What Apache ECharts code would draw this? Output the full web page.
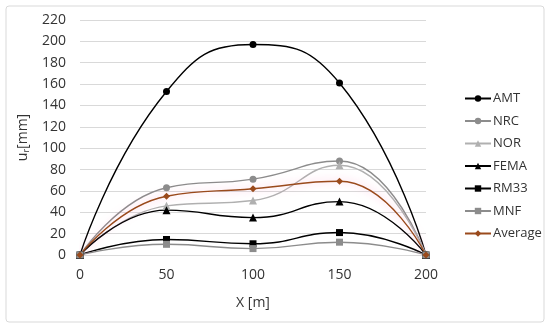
<!DOCTYPE html>
<html><head><meta charset="utf-8">
<script src="https://cdn.jsdelivr.net/npm/echarts@6/dist/echarts.min.js"></script>
<style>html,body{margin:0;padding:0;background:#fff}#c{width:550px;height:331px}</style>
</head><body><div id="c"></div>
<script>
const xs = [0, 50, 100, 150, 200];
const AMT = [0, 153, 197, 161, 0];
const NRC = [0, 63, 71, 88, 0];
const NOR = [0, 46, 51, 84, 0];
const FEMA = [0, 42, 35, 50, 0];
const RM33 = [0, 14.5, 10.5, 21, 0];
const MNF = [0, 10, 6, 12, 0];
const Average = [0, 55, 62, 69, 0];
const yTicks = [0, 20, 40, 60, 80, 100, 120, 140, 160, 180, 200, 220];

const pair = a => xs.map((x, i) => [x, a[i]]);
const font = 'Open Sans';
function s(name, data, color, symbol, extra) {
  return Object.assign({
    name, type: 'line', data: pair(data), smooth: 0.5,
    symbol, symbolSize: symbol === 'triangle' ? 8 : 7,
    lineStyle: { color, width: 1.4 },
    itemStyle: { color },
    z: 3
  }, extra || {});
}
const chart = echarts.init(document.getElementById('c'), null, { renderer: 'canvas' });
chart.setOption({
  animation: false,
  graphic: [{ type: 'rect', shape: { x: 6, y: 6, width: 538, height: 316, r: 3 },
    style: { fill: 'none', stroke: '#d9d9d9', lineWidth: 1 }, z: -1 }],
  grid: { left: 80, right: 124, top: 20, bottom: 76 },
  xAxis: {
    type: 'value', min: 0, max: 200, interval: 50,
    axisLine: { show: false }, axisTick: { show: false }, splitLine: { show: false },
    axisLabel: { fontFamily: font, fontSize: 14, color: '#333333', margin: 13 },
    name: 'X [m]', nameLocation: 'middle', nameGap: 41,
    nameTextStyle: { fontFamily: font, fontSize: 14, color: '#333333' }
  },
  yAxis: {
    type: 'value', min: yTicks[0], max: yTicks[yTicks.length - 1], interval: 20,
    axisLine: { show: false }, axisTick: { show: false },
    splitLine: { lineStyle: { color: '#d9d9d9', width: 1 } },
    axisLabel: { fontFamily: font, fontSize: 14, color: '#333333', margin: 14 },
    name: '{a|u}{b|r}{a|[mm]}', nameLocation: 'middle', nameGap: 48, nameRotate: 90,
    nameTextStyle: { rich: {
      a: { fontFamily: font, fontSize: 14, color: '#333333' },
      b: { fontFamily: font, fontSize: 9, color: '#333333', verticalAlign: 'bottom', padding: [7, 0, 0, 0] } } }
  },
  legend: {
    orient: 'vertical', left: 459, top: 87, itemWidth: 26, itemHeight: 8, itemGap: 9.5,
    textStyle: { fontFamily: font, fontSize: 13, color: '#333333', padding: [0, 0, 0, -3] },
    data: ['AMT', 'NRC', 'NOR', 'FEMA', 'RM33', 'MNF', 'Average']
  },
  series: [
    s('AMT', AMT, '#000000', 'circle'),
    s('NRC', NRC, '#8c8c8c', 'circle'),
    s('NOR', NOR, '#b0b0b0', 'triangle'),
    s('FEMA', FEMA, '#000000', 'triangle'),
    s('RM33', RM33, '#000000', 'rect'),
    s('MNF', MNF, '#8c8c8c', 'rect'),
    s('Average', Average, '#9a4a1c', 'diamond', {
      lineStyle: { color: '#9a4a1c', width: 1.4, shadowColor: 'rgba(255,120,180,0.55)', shadowBlur: 8 },
      symbolSize: 7
    })
  ]
});
</script></body></html>
